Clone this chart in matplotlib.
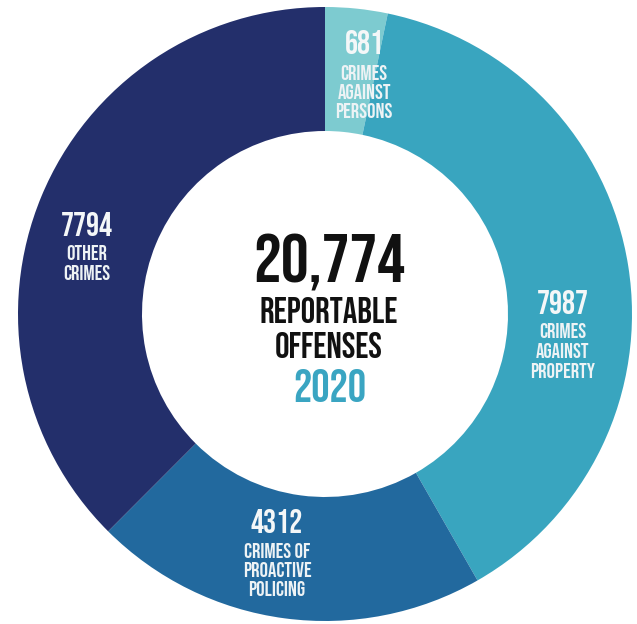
import matplotlib
matplotlib.use("Agg")
from matplotlib import pyplot as plt

categories = ["CRIMES\nAGAINST\nPERSONS", "CRIMES\nAGAINST\nPROPERTY",
              "CRIMES OF\nPROACTIVE\nPOLICING", "OTHER\nCRIMES"]
counts = [681, 7987, 4312, 7794]
slice_colors = ["#7dcbd0", "#39a5bf", "#22699e", "#232f6b"]
total_label = "REPORTABLE\nOFFENSES"
year = "2020"

W, H = 637, 624
CX, CY = 325, 314          # ring centre in pixels (y measured from top)
R_OUT, R_IN = 307, 183

# label anchors in pixels: (x, y of the number, y of first sub line)
label_pos = [(364, 42, 72), (563, 302, 331), (277, 521, 550), (87, 224, 253)]

FONT = ["Bebas Neue", "Oswald", "DejaVu Sans"]


def frac(x, y):
    return x / W, 1 - y / H


fig = plt.figure(figsize=(W / 100, H / 100), dpi=100)
ax = fig.add_axes([0, 0, 1, 1])

ax.pie(counts, colors=slice_colors, startangle=90, counterclock=False,
       center=(CX, H - CY), radius=R_OUT,
       wedgeprops=dict(width=R_OUT - R_IN, linewidth=0))
ax.set_xlim(0, W)
ax.set_ylim(0, H)
ax.set_aspect("auto")
ax.axis("off")

for n, name, (x, y_num, y_sub) in zip(counts, categories, label_pos):
    ax.text(*frac(x, y_num), str(n), transform=ax.transAxes, ha="center", va="center",
            fontsize=23.5, family=FONT, color="#f4f7f8")
    for i, line in enumerate(name.split("\n")):
        ax.text(*frac(x, y_sub + 19.5 * i), line, transform=ax.transAxes,
                ha="center", va="center", fontsize=15, family=FONT, color="#eef3f5")

# centre caption
ax.text(*frac(329, 262), f"{sum(counts):,}", transform=ax.transAxes, ha="center",
        va="center", fontsize=50, family=FONT, color="#111111")
for i, line in enumerate(total_label.split("\n")):
    ax.text(*frac(329, 310 + 35.5 * i), line, transform=ax.transAxes, ha="center",
            va="center", fontsize=26, family=FONT, color="#111111")
ax.text(*frac(330, 385), year, transform=ax.transAxes, ha="center", va="center",
        fontsize=33, family=FONT, color="#3aa5c2")

fig.savefig("out.png", dpi=100)
